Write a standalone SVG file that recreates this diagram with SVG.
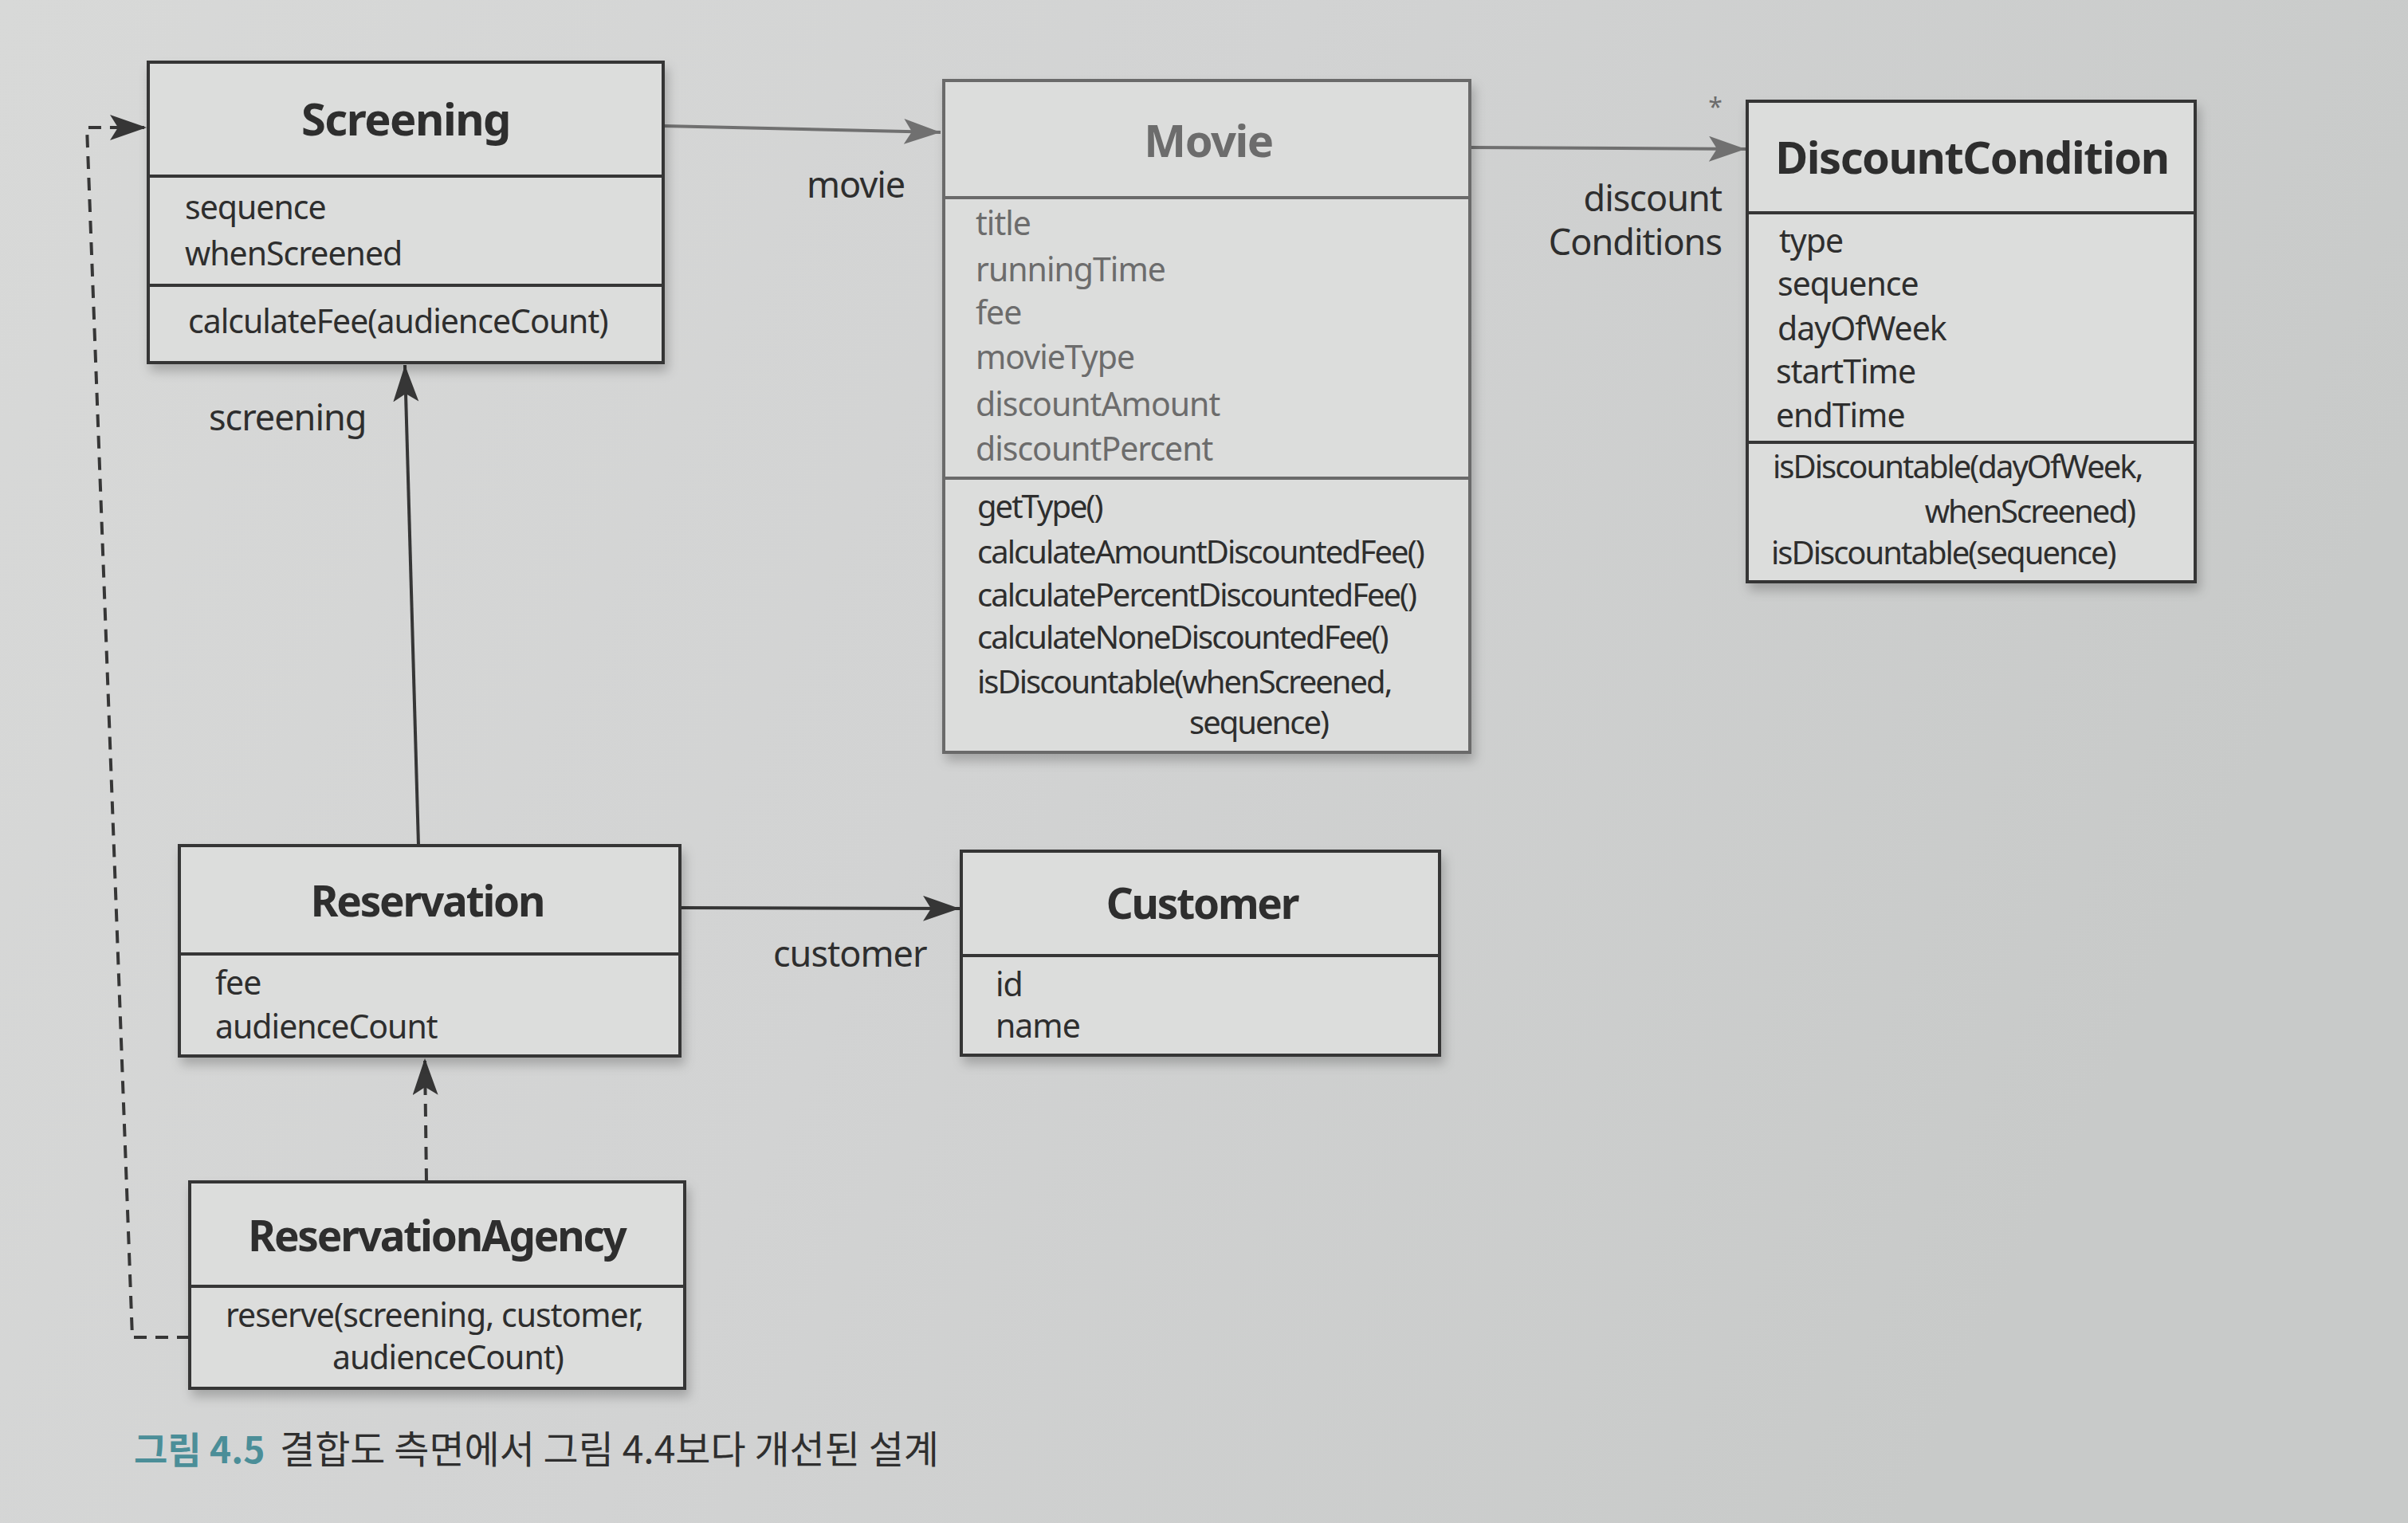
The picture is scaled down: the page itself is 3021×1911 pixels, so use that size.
<svg xmlns="http://www.w3.org/2000/svg" width="3021" height="1911" viewBox="0 0 3021 1911">
<style>
.box{fill:#dcdddc;stroke:#363636;stroke-width:4}
.fbox{fill:#dcdddc;stroke:#6a6a6a;stroke-width:4}
.dv{stroke:#363636;stroke-width:4}
.fdv{stroke:#6a6a6a;stroke-width:4}
.t{font-family:"Noto Sans","Open Sans",sans-serif;font-size:41px;fill:#2e2e2e;letter-spacing:-1px}
.tn{font-family:"Noto Sans","Open Sans",sans-serif;font-size:40px;fill:#2e2e2e;letter-spacing:-2px}
.ti{font-family:"Noto Sans","Open Sans",sans-serif;font-size:56px;font-weight:bold;fill:#2e2e2e;text-anchor:middle;letter-spacing:-1.5px}
.ts{font-size:53px;letter-spacing:-2.2px}
.f{fill:#6c6c6c}
.lbl{font-family:"Noto Sans","Open Sans",sans-serif;font-size:45px;fill:#2e2e2e;letter-spacing:-1px}
.ln{fill:none;stroke:#363636;stroke-width:4}
.fln{fill:none;stroke:#707070;stroke-width:4}
.dash{fill:none;stroke:#363636;stroke-width:4;stroke-dasharray:16 11}
.cap{font-family:"Noto Sans CJK KR","Noto Sans",sans-serif;font-size:48px;fill:#2f2f2f}
</style>
<defs>
<linearGradient id="bg" x1="0" y1="0" x2="1" y2="0.3">
<stop offset="0" stop-color="#d8d9d8"/>
<stop offset="0.5" stop-color="#d2d3d3"/>
<stop offset="1" stop-color="#c8cac9"/>
</linearGradient>
<filter id="sh" x="-10%" y="-10%" width="125%" height="130%">
<feDropShadow dx="4" dy="9" stdDeviation="7" flood-color="#000" flood-opacity="0.22"/>
</filter>
<marker id="ah" markerUnits="userSpaceOnUse" markerWidth="48" markerHeight="34" refX="46" refY="16" orient="auto">
<path d="M0,0 L46,16 L0,32 L10,16 Z" fill="#363636"/>
</marker>
<marker id="ahf" markerUnits="userSpaceOnUse" markerWidth="48" markerHeight="34" refX="46" refY="16" orient="auto">
<path d="M0,0 L46,16 L0,32 L10,16 Z" fill="#707070"/>
</marker>
</defs>
<rect width="3021" height="1911" fill="url(#bg)"/>

<g id="connectors">
<line class="fln" x1="832" y1="158" x2="1180" y2="166" marker-end="url(#ahf)"/>
<line class="fln" x1="1846" y1="185" x2="2190" y2="187" marker-end="url(#ahf)"/>
<line class="ln" x1="525" y1="1061" x2="508" y2="458" marker-end="url(#ah)"/>
<line class="ln" x1="853" y1="1139" x2="1204" y2="1140" marker-end="url(#ah)"/>
<line class="dash" x1="535" y1="1482" x2="533" y2="1328" marker-end="url(#ah)"/>
<polyline class="dash" points="238,1678 166,1678 109,160 184,160" marker-end="url(#ah)"/>
<text class="lbl f" x="1012" y="248">movie</text>
<text class="lbl f" x="2160" y="265" text-anchor="end">discount</text>
<text class="lbl f" x="2160" y="320" text-anchor="end">Conditions</text>
<text class="f" x="2152" y="146" font-family="Noto Sans,sans-serif" font-size="32" text-anchor="middle">*</text>
<text class="lbl" x="262" y="540">screening</text>
<text class="lbl" x="970" y="1213">customer</text>
</g>

<g id="Screening">
<rect class="box" x="186" y="78" width="646" height="377" filter="url(#sh)"/>
<line class="dv" x1="186" y1="221" x2="832" y2="221"/>
<line class="dv" x1="186" y1="358" x2="832" y2="358"/>
<text class="ti" x="509" y="170">Screening</text>
<text class="t" x="232" y="275" font-size="43">sequence</text>
<text class="t" x="232" y="333" font-size="43">whenScreened</text>
<text class="t" x="236" y="418">calculateFee(audienceCount)</text>
</g>

<g id="Movie">
<rect class="fbox" x="1184" y="101" width="660" height="843" filter="url(#sh)"/>
<line class="fdv" x1="1184" y1="248" x2="1844" y2="248"/>
<line class="fdv" x1="1184" y1="600" x2="1844" y2="600"/>
<text class="ti f" x="1516" y="197">Movie</text>
<text class="t f" x="1224" y="295">title</text>
<text class="t f" x="1224" y="353">runningTime</text>
<text class="t f" x="1224" y="407">fee</text>
<text class="t f" x="1224" y="463">movieType</text>
<text class="t f" x="1224" y="522">discountAmount</text>
<text class="t f" x="1224" y="578">discountPercent</text>
<text class="tn" x="1226" y="650">getType()</text>
<text class="tn" x="1226" y="707">calculateAmountDiscountedFee()</text>
<text class="tn" x="1226" y="761">calculatePercentDiscountedFee()</text>
<text class="tn" x="1226" y="814">calculateNoneDiscountedFee()</text>
<text class="tn" x="1226" y="870">isDiscountable(whenScreened,</text>
<text class="tn" x="1492" y="921">sequence)</text>
</g>

<g id="DiscountCondition">
<rect class="box" x="2192" y="127" width="562" height="603" filter="url(#sh)"/>
<line class="dv" x1="2192" y1="267" x2="2754" y2="267"/>
<line class="dv" x1="2192" y1="555" x2="2754" y2="555"/>
<text class="ti" x="2474" y="218">DiscountCondition</text>
<text class="t" x="2232" y="317">type</text>
<text class="t" x="2230" y="371">sequence</text>
<text class="t" x="2230" y="427">dayOfWeek</text>
<text class="t" x="2228" y="481">startTime</text>
<text class="t" x="2228" y="536">endTime</text>
<text class="tn" x="2224" y="600">isDiscountable(dayOfWeek,</text>
<text class="tn" x="2678" y="656" text-anchor="end">whenScreened)</text>
<text class="tn" x="2222" y="708">isDiscountable(sequence)</text>
</g>

<g id="Reservation">
<rect class="box" x="225" y="1061" width="628" height="264" filter="url(#sh)"/>
<line class="dv" x1="225" y1="1197" x2="853" y2="1197"/>
<text class="ti ts" x="536" y="1150">Reservation</text>
<text class="t" x="270" y="1248">fee</text>
<text class="t" x="270" y="1303">audienceCount</text>
</g>

<g id="Customer">
<rect class="box" x="1206" y="1068" width="600" height="256" filter="url(#sh)"/>
<line class="dv" x1="1206" y1="1199" x2="1806" y2="1199"/>
<text class="ti ts" x="1508" y="1153">Customer</text>
<text class="t" x="1249" y="1250">id</text>
<text class="t" x="1249" y="1302">name</text>
</g>

<g id="ReservationAgency">
<rect class="box" x="238" y="1483" width="621" height="259" filter="url(#sh)"/>
<line class="dv" x1="238" y1="1614" x2="859" y2="1614"/>
<text class="ti ts" x="548" y="1570">ReservationAgency</text>
<text class="t" x="283" y="1665">reserve(screening, customer,</text>
<text class="t" x="417" y="1718">audienceCount)</text>
</g>

<text class="cap" x="168" y="1836"><tspan font-weight="bold" fill="#4b8e98" font-size="46">그림 4.5</tspan><tspan x="351">결합도 측면에서 그림 4.4보다 개선된 설계</tspan></text>
</svg>
